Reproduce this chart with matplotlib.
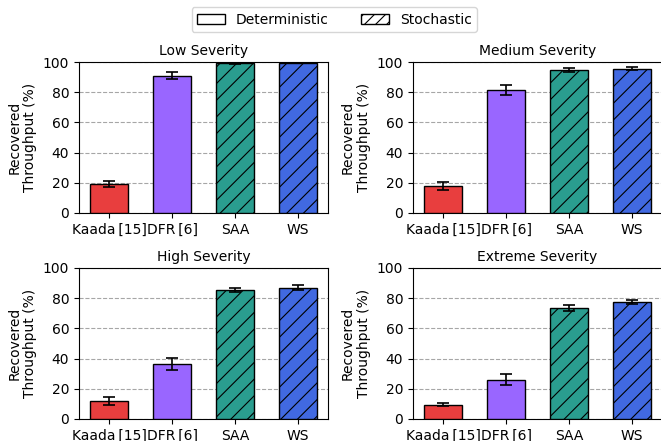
import matplotlib
matplotlib.use('Agg')
import matplotlib.pyplot as plt
import matplotlib.patches as mpatches
import numpy as np

methods = ['Kaada\u2009[15]', 'DFR\u2009[6]', 'SAA', 'WS']
colors = ['#E83E3E', '#9966FF', '#2A9D8F', '#4169E1']
hatches = ['', '', '//', '//']

titles = ['Low Severity', 'Medium Severity', 'High Severity', 'Extreme Severity']
means = [
    [19.5, 91.0, 99.5, 99.5],
    [18.0, 81.5, 94.5, 95.5],
    [12.0, 36.5, 85.5, 87.0],
    [9.5, 26.0, 73.5, 77.5],
]
errs = [
    [2.0, 2.5, 0.5, 0.3],
    [2.5, 3.5, 1.2, 1.0],
    [2.5, 4.0, 1.5, 1.5],
    [1.0, 3.5, 2.0, 1.5],
]

plt.rcParams['hatch.linewidth'] = 0.8
fig, axes = plt.subplots(2, 2, figsize=(6.61, 4.41), dpi=100)
x = np.arange(len(methods))

for ax, title, m, e in zip(axes.flat, titles, means, errs):
    ax.bar(x, m, yerr=e, width=0.6, color=colors, edgecolor='black',
           linewidth=1, capsize=4, zorder=3,
           error_kw=dict(elinewidth=1.2, capthick=1.2, ecolor='black'))
    for bar, h in zip(ax.patches, hatches):
        bar.set_hatch(h)
    ax.set_title(title, fontsize=10, pad=5)
    ax.set_ylim(0, 100)
    ax.set_yticks([0, 20, 40, 60, 80, 100])
    ax.set_xticks(x)
    ax.set_xticklabels(methods, fontsize=10)
    ax.tick_params(axis='y', labelsize=10)
    ax.set_ylabel('Recovered\nThroughput (%)', fontsize=10)
    ax.grid(axis='y', linestyle='--', color='gray', alpha=0.7, zorder=0)
    ax.set_axisbelow(True)

det = mpatches.Patch(facecolor='white', edgecolor='black', label='Deterministic')
sto = mpatches.Patch(facecolor='white', edgecolor='black', hatch='///', label='Stochastic')
fig.legend(handles=[det, sto], loc='upper center', ncol=2, fontsize=10,
           bbox_to_anchor=(0.506, 1.0), borderaxespad=0.5,
           columnspacing=2.3, frameon=True)

fig.subplots_adjust(left=0.1195, right=1.0015, top=0.8594, bottom=0.05,
                    wspace=0.341, hspace=0.364)
fig.savefig('out.png', dpi=100)
